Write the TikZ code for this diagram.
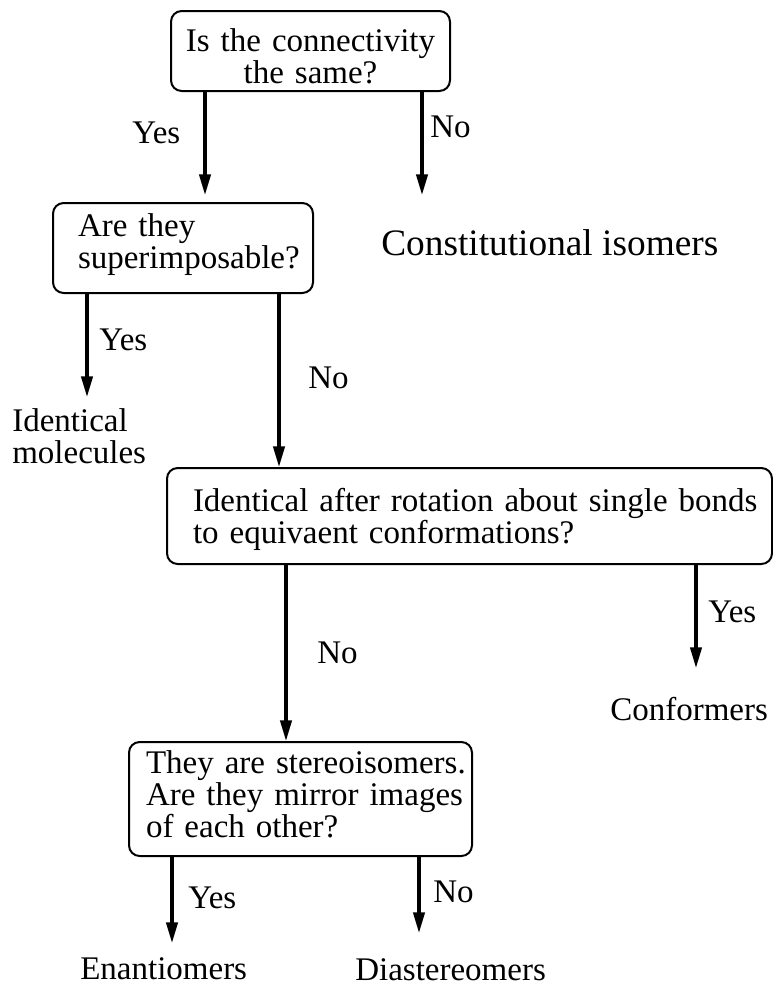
\documentclass[tikz,border=0pt]{standalone}
\usepackage{fontspec}
\setmainfont{Liberation Serif}
\usetikzlibrary{arrows.meta}
\tikzset{
  qbox/.style={draw, line width=1.5pt, rounded corners=8pt, inner sep=0pt, anchor=north west,
    font=\fontsize{24.75}{24}\selectfont},
  arr/.style={line width=2.4pt, -{Triangle[length=15.5pt,width=8.5pt]}},
  lab/.style={inner sep=0pt, anchor=base west, font=\fontsize{24.75}{24}\selectfont},
  biglab/.style={inner sep=0pt, anchor=base west, font=\fontsize{28}{30}\selectfont}
}
\begin{document}
\begin{tikzpicture}[x=0.75pt,y=-0.75pt]
\useasboundingbox (0,0) rectangle (772,986);
% boxes
\node[qbox, align=center, text width=202.5pt, minimum width=209.25pt, text height=30pt, text depth=30pt]
  (b1) at (170,10) {\mbox{Is the connectivity}\\\mbox{the same?}};
\node[qbox, align=left, text width=157.5pt, minimum width=195pt, text height=24.75pt, text depth=42.75pt]
  (b2) at (52,202) {\mbox{Are they}\\\mbox{superimposable?}};
\node[qbox, align=left, text width=414.75pt, minimum width=453.75pt, text height=32.25pt, text depth=39.75pt]
  (b3) at (166,467) {\mbox{Identical after rotation about single bonds}\\\mbox{to equivaent conformations?}};
\node[qbox, align=left, text width=231.75pt, minimum width=257.25pt, text height=23.25pt, text depth=62.25pt]
  (b4) at (128,741) {\mbox{They are stereoisomers.}\\\mbox{Are they mirror images}\\\mbox{of each other?}};
% free arrow ends
\coordinate (e1) at (205,195);
\coordinate (e2) at (422,195);
\coordinate (e3) at (87,397);
\coordinate (e4) at (279,0);
\coordinate (e5) at (286,0);
\coordinate (e6) at (696,668);
\coordinate (e7) at (172,943);
\coordinate (e8) at (419,933);
% arrows
\draw[arr] (b1.south -| e1) -- (e1);
\draw[arr] (b1.south -| e2) -- (e2);
\draw[arr] (b2.south -| e3) -- (e3);
\draw[arr] (b2.south -| e4) -- (b3.north -| e4);
\draw[arr] (b3.south -| e5) -- (b4.north -| e5);
\draw[arr] (b3.south -| e6) -- (e6);
\draw[arr] (b4.south -| e7) -- (e7);
\draw[arr] (b4.south -| e8) -- (e8);
% labels
\node[lab] (y1) at (132,143) {Yes};
\node[lab] (n1) at (430,137) {No};
\node[biglab] (ci) at (381,255) {Constitutional isomers};
\node[lab] (y2) at (99,350) {Yes};
\node[lab] (n2) at (308,388) {No};
\node[lab, align=left, anchor=north west] (im) at (12,408) {Identical\\molecules};
\node[lab] (n3) at (317,663) {No};
\node[lab] (y3) at (708,622) {Yes};
\node[lab] (cf) at (610,720) {Conformers};
\node[lab] (y4) at (188,908) {Yes};
\node[lab] (n4) at (433,902) {No};
\node[lab] (en) at (80,979) {Enantiomers};
\node[lab] (ds) at (355,980) {Diastereomers};
\end{tikzpicture}
\end{document}
